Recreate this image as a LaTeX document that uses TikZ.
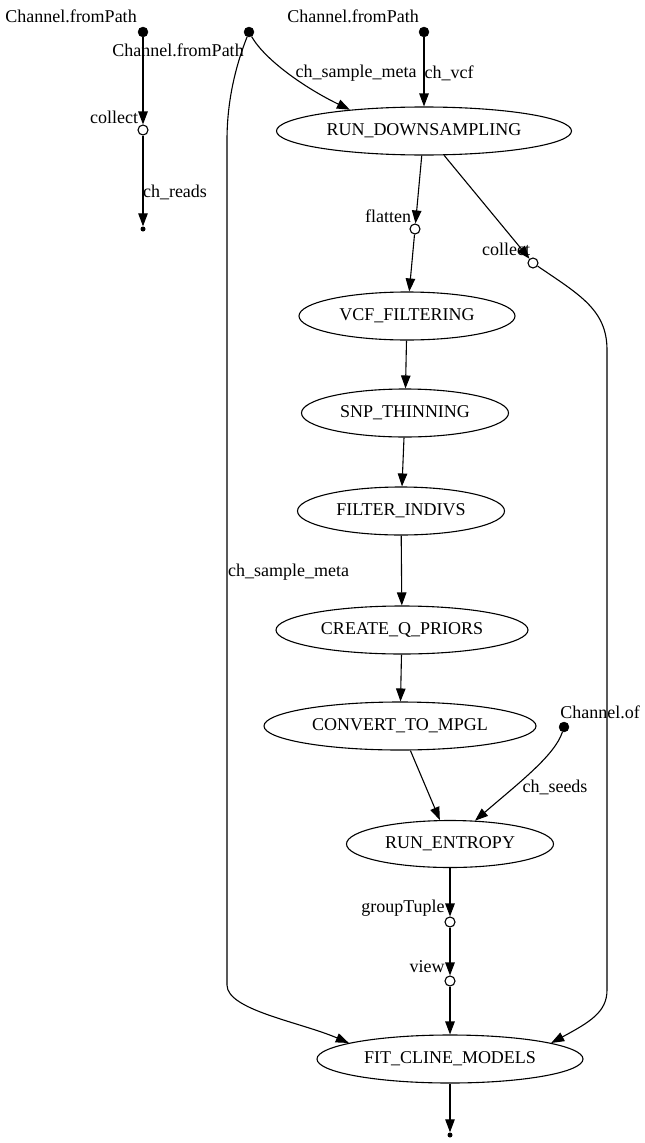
\documentclass[tikz,border=0pt]{standalone}
\usepackage{fontspec}
\setmainfont{Liberation Serif}
\usetikzlibrary{arrows.meta,shapes.geometric}
\begin{document}
\begin{tikzpicture}[x=1pt,y=-1pt,
  font=\fontsize{18}{20}\selectfont,
  proc/.style={draw,ellipse,line width=1.1pt,inner sep=0pt,minimum height=48pt},
  src/.style={circle,fill=black,draw=black,inner sep=0pt,minimum size=10pt},
  op/.style={circle,fill=white,draw=black,line width=1.1pt,inner sep=0pt,minimum size=10pt},
  sink/.style={circle,fill=black,inner sep=0pt,minimum size=5pt},
  lbl/.style={inner sep=0pt},
  flow/.style={line width=1.1pt,-{Triangle[length=13pt,width=9.5pt]}},
]
\useasboundingbox (0,0) rectangle (645,1143);

% processes
\node[proc,minimum width=295pt] (rd)  at (424,131)  {RUN\_DOWNSAMPLING};
\node[proc,minimum width=216pt] (vcf) at (407,316)  {VCF\_FILTERING};
\node[proc,minimum width=207pt] (snp) at (405,413)  {SNP\_THINNING};
\node[proc,minimum width=207pt] (fi)  at (401,511)  {FILTER\_INDIVS};
\node[proc,minimum width=252pt] (cqp) at (402,630)  {CREATE\_Q\_PRIORS};
\node[proc,minimum width=272pt] (ctm) at (400,726)  {CONVERT\_TO\_MPGL};
\node[proc,minimum width=207pt,minimum height=47pt] (re) at (450,844) {RUN\_ENTROPY};
\node[proc,minimum width=266pt] (fit) at (450,1059) {FIT\_CLINE\_MODELS};

% channel sources, operators and sinks
\node[src]  (src1) at (143,32)  {};
\node[src]  (src2) at (249,32)  {};
\node[src]  (src3) at (424,32)  {};
\node[src]  (chof) at (564,727) {};
\node[op]   (col1) at (143,130) {};
\node[op]   (flat) at (415,229) {};
\node[op]   (col2) at (533,263) {};
\node[op]   (gt)   at (450,922) {};
\node[op]   (vw)   at (450,981) {};
\node[sink] (snk1) at (143,229) {};
\node[sink] (snk2) at (450,1135) {};

% node labels
\node[lbl] (lsrc1) at (71,16)   {Channel.fromPath};
\node[lbl] (lsrc2) at (178,50)  {Channel.fromPath};
\node[lbl] (lsrc3) at (353,16)  {Channel.fromPath};
\node[lbl] (lcol1) at (114,117) {collect};
\node[lbl] (lflat) at (388,216) {flatten};
\node[lbl] (lcol2) at (506,249) {collect};
\node[lbl] (lchof) at (600,712) {Channel.of};
\node[lbl] (lgt)   at (403,908) {groupTuple};
\node[lbl] (lvw)   at (427,967) {view};

% edge labels
\node[lbl] (ereads) at (175,192)   {ch\_reads};
\node[lbl] (emeta1) at (356,73)    {ch\_sample\_meta};
\node[lbl] (evcf)   at (449,73)    {ch\_vcf};
\node[lbl] (emeta2) at (288.5,572) {ch\_sample\_meta};
\node[lbl] (eseeds) at (555,787)   {ch\_seeds};

% edges
\draw[flow] (src1) -- (col1);
\draw[flow] (col1) -- (snk1);
\draw[flow] (src2) .. controls (265,60) and (305,88) .. (rd.164);
\draw[flow] (src3) -- (rd);
\draw[flow] (rd) -- (flat);
\draw[flow] (rd) -- (col2);
\draw[flow] (flat) -- (vcf);
\draw[flow] (vcf) -- (snp);
\draw[flow] (snp) -- (fi);
\draw[flow] (fi) -- (cqp);
\draw[flow] (cqp) -- (ctm);
\draw[flow] (ctm) -- (re);
\draw[flow] (chof) .. controls (555,755) and (520,782) .. (re.43);
\draw[flow] (re) -- (gt);
\draw[flow] (gt) -- (vw);
\draw[flow] (vw) -- (fit);
\draw[flow] (fit) -- (snk2);
\draw[flow] (src2) .. controls (236,65) and (227,100) .. (227,140)
  -- (227,985) .. controls (227,1010) and (300,1022) .. (fit.171);
\draw[flow] (col2) .. controls (580,295) and (607,310) .. (607,350)
  -- (607,990) .. controls (607,1012) and (590,1022) .. (fit.9);
\end{tikzpicture}
\end{document}
